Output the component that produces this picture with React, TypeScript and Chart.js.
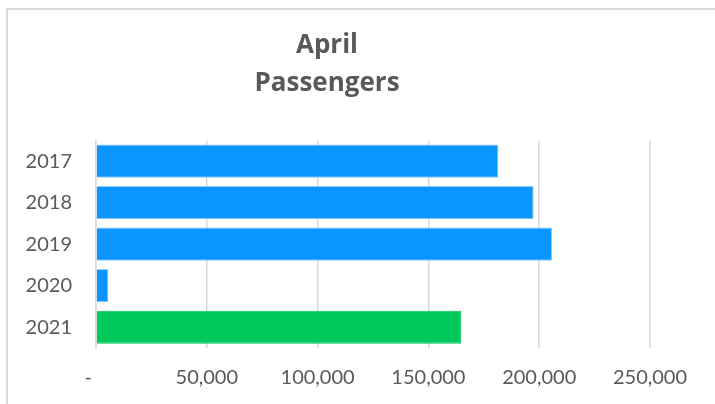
import React, { useEffect, useRef } from "react";
import { Chart, registerables } from "chart.js";

Chart.register(...registerables);

const categories = ["2017", "2018", "2019", "2020", "2021"];
const passengers = [181600, 197500, 205800, 5600, 164800];
const barColors = ["#0a95ff", "#0a95ff", "#0a95ff", "#0a95ff", "#00c85a"];
const borderColors = ["#8ccaff", "#8ccaff", "#8ccaff", "#8ccaff", "#00c85a"];
const titleLines = ["April", "Passengers"];
const xMax = 250000;
const xStep = 50000;

const fmt = (v: number) => (v === 0 ? "-   " : v.toLocaleString("en-US"));

export default function App() {
  const ref = useRef<HTMLCanvasElement | null>(null);
  useEffect(() => {
    if (!ref.current) return;
    const chart = new Chart(ref.current, {
      type: "bar",
      data: {
        labels: categories,
        datasets: [
          {
            data: passengers,
            backgroundColor: barColors,
            borderColor: borderColors,
            borderWidth: 1,
            categoryPercentage: 1,
            barPercentage: 0.8,
          },
        ],
      },
      options: {
        indexAxis: "y",
        animation: false,
        responsive: false,
        maintainAspectRatio: false,
        layout: { padding: { left: 4, right: 65, top: 0, bottom: 0 } },
        plugins: {
          legend: { display: false },
          tooltip: { enabled: false },
          title: {
            display: true,
            text: titleLines,
            color: "#595959",
            font: { family: "Open Sans", size: 26, weight: "bold", lineHeight: 1.45 },
            padding: { top: 27, bottom: 38 },
          },
        },
        scales: {
          x: {
            min: 0,
            max: xMax,
            ticks: {
              stepSize: xStep,
              color: "#595959",
              font: { family: "Lato", size: 20 },
              padding: 18,
              callback: (v: any) => fmt(Number(v)),
              maxRotation: 0,
            },
            grid: { color: "#d9d9d9", lineWidth: 1.5, drawTicks: false },
            border: { display: false },
            afterFit: (s: any) => {
              s.height = 56;
            },
          },
          y: {
            ticks: {
              color: "#595959",
              font: { family: "Lato", size: 20 },
              padding: 24,
            },
            grid: { display: false, drawTicks: false },
            border: { display: true, color: "#d9d9d9", width: 1.5 },
            afterFit: (s: any) => {
              s.width = 92;
            },
          },
        },
      },
    });
    return () => chart.destroy();
  }, []);
  return (
    <div
      style={{
        position: "fixed",
        left: 0,
        top: 0,
        width: 715,
        height: 404,
        overflow: "hidden",
        background: "#ffffff",
      }}
    >
      <div
        style={{
          position: "absolute",
          left: 6,
          top: 8,
          width: 760,
          height: 460,
          border: "2px solid #d9d9d9",
          boxSizing: "border-box",
        }}
      />
      <canvas
        ref={ref}
        width={715}
        height={404}
        style={{ position: "absolute", left: 0, top: 0, width: 715, height: 404 }}
      />
    </div>
  );
}
